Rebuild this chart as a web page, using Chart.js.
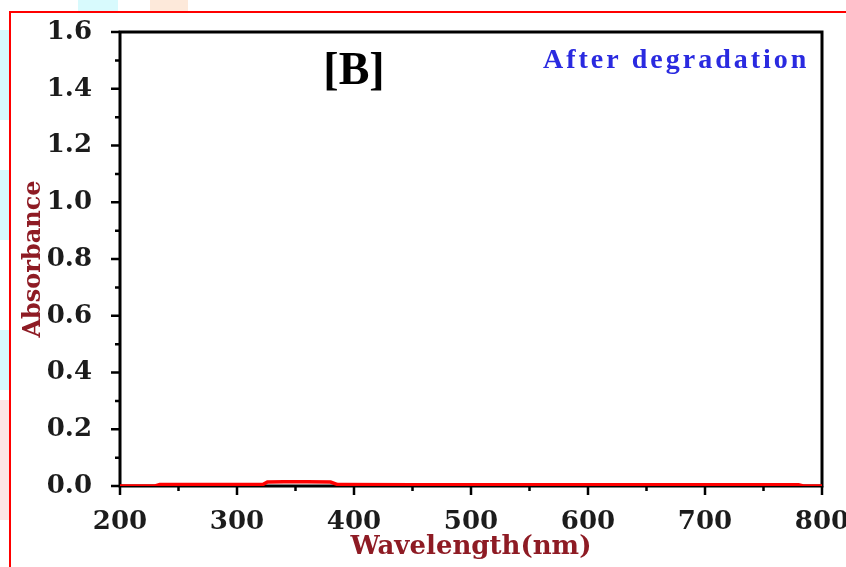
<!DOCTYPE html>
<html>
<head>
<meta charset="utf-8">
<script src="https://cdn.jsdelivr.net/npm/chart.js@4"></script>
<style>
  html, body { margin: 0; padding: 0; background: #fff; }
  canvas { display: block; }
</style>
</head>
<body>
<canvas id="spectrum" width="846" height="567"></canvas>
<script>
// spectrum after degradation, basically flat near zero
const wavelength = [200, 230, 234, 260, 290, 322, 326, 340, 360, 380, 386, 390, 450, 500, 550, 600, 650, 700, 750, 780, 784, 800];
const absorbance = [0.000, 0.000, 0.005, 0.005, 0.005, 0.005, 0.014, 0.015, 0.015, 0.014, 0.005, 0.005, 0.004, 0.004, 0.004, 0.004, 0.004, 0.004, 0.004, 0.004, 0.000, 0.000];

// axis ticks
const xTicks = [200, 300, 400, 500, 600, 700, 800];
const xMinor = [250, 350, 450, 550, 650, 750];
const yTicks = [0, 0.2, 0.4, 0.6, 0.8, 1.0, 1.2, 1.4, 1.6];
const yMinor = [0.1, 0.3, 0.5, 0.7, 0.9, 1.1, 1.3, 1.5];

const titleRed = '#8e1b24';
const tickFont = { family: 'DejaVu Serif', weight: 'bold', size: 26 };

// page bits: white bg, red outer frame, faint smudges outside it
const pageDeco = {
  id: 'pageDeco',
  beforeDraw(chart) {
    const c = chart.ctx;
    c.save();
    c.fillStyle = '#fff';
    c.fillRect(0, 0, chart.width, chart.height);
    c.fillStyle = '#d8fafd';
    c.fillRect(78, 0, 40, 11);
    c.fillRect(0, 30, 9, 90);
    c.fillRect(0, 170, 9, 70);
    c.fillRect(0, 330, 9, 60);
    c.fillStyle = '#fde9da';
    c.fillRect(150, 0, 38, 11);
    c.fillStyle = '#fde4e4';
    c.fillRect(0, 400, 9, 120);
    c.strokeStyle = '#ff0000';
    c.lineWidth = 2;
    c.strokeRect(10, 12, chart.width + 20, chart.height + 20);
    c.restore();
  },
  // box + tick marks, drawn before the data so the red line sits on top
  beforeDatasetsDraw(chart) {
    const c = chart.ctx;
    const a = chart.chartArea;
    const xs = chart.scales.x, ys = chart.scales.y;
    c.save();
    c.strokeStyle = '#000';
    c.lineWidth = 3;
    c.strokeRect(a.left, a.top, a.right - a.left, a.bottom - a.top);
    c.lineWidth = 2.5;
    c.beginPath();
    xTicks.forEach(v => { const px = xs.getPixelForValue(v); c.moveTo(px, a.bottom); c.lineTo(px, a.bottom + 9); });
    xMinor.forEach(v => { const px = xs.getPixelForValue(v); c.moveTo(px, a.bottom); c.lineTo(px, a.bottom + 5); });
    yTicks.forEach(v => { const py = ys.getPixelForValue(v); c.moveTo(a.left, py); c.lineTo(a.left - 9, py); });
    yMinor.forEach(v => { const py = ys.getPixelForValue(v); c.moveTo(a.left, py); c.lineTo(a.left - 5, py); });
    c.stroke();
    c.restore();
  },
  afterDraw(chart) {
    const c = chart.ctx;
    c.save();
    c.fillStyle = '#000';
    c.font = 'bold 46px "Liberation Serif"';
    c.textAlign = 'center';
    c.textBaseline = 'alphabetic';
    c.fillText('[B]', 354, 84);
    c.fillStyle = '#2a2ae0';
    c.font = 'bold 28px "Liberation Serif"';
    c.textAlign = 'left';
    c.letterSpacing = '3px';
    c.fillText('After degradation', 543, 68);
    c.letterSpacing = '0px';
    c.restore();
  }
};

new Chart(document.getElementById('spectrum'), {
  type: 'line',
  data: {
    datasets: [{
      data: wavelength.map((w, i) => ({ x: w, y: absorbance[i] })),
      borderColor: '#ff0000',
      borderWidth: 3.5,
      pointRadius: 0,
      tension: 0
    }]
  },
  options: {
    responsive: false,
    animation: false,
    layout: { padding: { left: 0, right: 24, top: 32, bottom: 0 } },
    plugins: { legend: { display: false }, tooltip: { enabled: false } },
    scales: {
      x: {
        type: 'linear',
        min: 200,
        max: 800,
        afterBuildTicks: s => { s.ticks = xTicks.map(v => ({ value: v })); },
        grid: { display: false },
        border: { display: false },
        ticks: { font: tickFont, color: '#1c1c1c', padding: 13, maxRotation: 0, autoSkip: false },
        title: { display: true, text: 'Wavelength(nm)', color: titleRed,
                 font: { family: 'DejaVu Serif', weight: 'bold', size: 26 }, padding: { top: 0, bottom: 4 } },
        afterFit: s => { s.height = 81; s.paddingLeft = 0; s.paddingRight = 0; }
      },
      y: {
        type: 'linear',
        min: 0,
        max: 1.6,
        afterBuildTicks: s => { s.ticks = yTicks.map(v => ({ value: v })); },
        grid: { display: false },
        border: { display: false },
        ticks: { font: tickFont, color: '#1c1c1c', padding: 20, callback: v => v.toFixed(1), autoSkip: false },
        title: { display: true, text: 'Absorbance', color: titleRed,
                 font: { family: 'DejaVu Serif', weight: 'bold', size: 24 }, padding: { top: 19, bottom: 0 } },
        afterFit: s => { s.width = 120; s.paddingTop = 0; s.paddingBottom = 0; }
      }
    }
  },
  plugins: [pageDeco]
});
</script>
</body>
</html>
